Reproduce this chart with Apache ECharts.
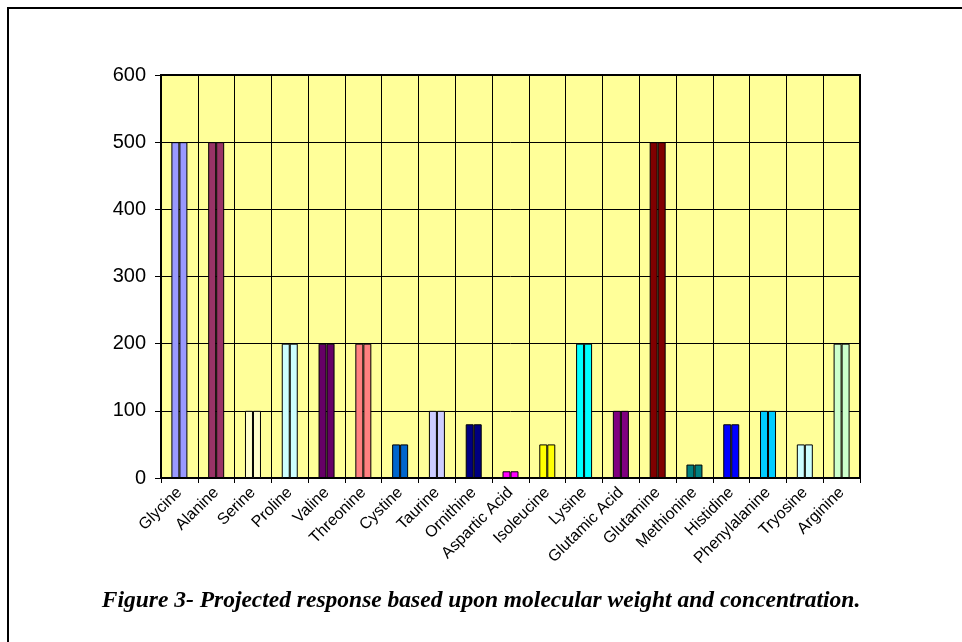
<!DOCTYPE html>
<html><head><meta charset="utf-8">
<script src="https://cdn.jsdelivr.net/npm/echarts@6/dist/echarts.min.js"></script>
<style>html,body{margin:0;padding:0;background:#fff}#c{width:962px;height:642px}</style>
</head><body><div id="c"></div>
<script>
const categories = ["Glycine","Alanine","Serine","Proline","Valine","Threonine","Cystine","Taurine","Ornithine","Aspartic Acid","Isoleucine","Lysine","Glutamic Acid","Glutamine","Methionine","Histidine","Phenylalanine","Tryosine","Arginine"];
const values = [500,500,100,200,200,200,50,100,80,10,50,200,100,500,20,80,100,50,200];
const barColors = ["#9999FF","#993366","#FFFFCC","#CCFFFF","#660066","#FF8080","#0066CC","#CCCCFF","#000080","#FF00FF","#FFFF00","#00FFFF","#800080","#800000","#008080","#0000FF","#00CCFF","#CCFFFF","#CCFFCC"];
const yTicks = [0,100,200,300,400,500,600];
const caption = "Figure 3- Projected response based upon molecular weight and concentration.";

const chart = echarts.init(document.getElementById('c'));
const half = (name) => ({
  type: 'bar', name: name,
  data: values.map((v, i) => ({value: v, itemStyle: {color: barColors[i]}})),
  barWidth: 8, barGap: '0%',
  itemStyle: {borderColor: '#000', borderWidth: 1},
  silent: true
});
chart.setOption({
  animation: false,
  graphic: [{type: 'rect', shape: {x: 8, y: 8, width: 1000, height: 700}, style: {fill: 'none', stroke: '#000', lineWidth: 2}, z: 100}],
  title: {text: caption, left: 'center', top: 584,
    textStyle: {fontFamily: 'Liberation Serif', fontStyle: 'italic', fontWeight: 'bold', fontSize: 23.5, color: '#000'}},
  grid: {left: 161, right: 102, top: 75, bottom: 164, show: true, backgroundColor: '#FFFF99', borderColor: '#000', borderWidth: 2},
  xAxis: {type: 'category', data: categories,
    axisLine: {lineStyle: {color: '#000', width: 2}},
    axisTick: {show: true, length: 5, lineStyle: {color: '#000'}},
    splitLine: {show: true, lineStyle: {color: '#000', width: 1}},
    axisLabel: {rotate: 45, interval: 0, fontFamily: 'Liberation Sans', fontSize: 16, color: '#000', margin: 12}},
  yAxis: {type: 'value', min: 0, max: 600, interval: 100,
    axisLine: {show: true, lineStyle: {color: '#000', width: 2}},
    axisTick: {show: true, length: 6, lineStyle: {color: '#000'}},
    splitLine: {show: true, lineStyle: {color: '#000', width: 1}},
    axisLabel: {fontFamily: 'Liberation Sans', fontSize: 20, color: '#000', margin: 15,
      formatter: (v) => yTicks.includes(v) ? String(v) : ''}},
  series: [half('a'), half('b')]
});
</script></body></html>
